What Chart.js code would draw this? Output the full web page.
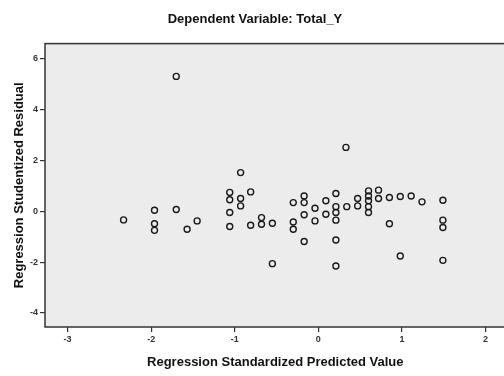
<!DOCTYPE html>
<html>
<head>
<meta charset="utf-8">
<script src="https://cdn.jsdelivr.net/npm/chart.js@4"></script>
<style>
  html, body { margin: 0; padding: 0; background: #ffffff; overflow: hidden; }
  #wrap { width: 510px; height: 376px; }
</style>
</head>
<body>
<div id="wrap"><canvas id="scatter"></canvas></div>
<script>
// residual scatterplot – studentized residual vs standardized predicted value

const chartTitle = "Dependent Variable: Total_Y";
const xTitle = "Regression Standardized Predicted Value";
const yTitle = "Regression Studentized Residual";

const xTicks = [-3, -2, -1, 0, 1, 2];
const yTicks = [-4, -2, 0, 2, 4, 6];

// predicted values (x) and residuals (y)
const predicted = [
  -2.33, -1.96, -1.96, -1.96, -1.70, -1.70, -1.57, -1.45,
  -1.06, -1.06, -1.06, -1.06, -0.93, -0.93, -0.93, -0.81, -0.81,
  -0.68, -0.68, -0.55, -0.55, -0.30, -0.30, -0.30,
  -0.17, -0.17, -0.17, -0.17, -0.04, -0.04, 0.09, 0.09,
  0.21, 0.21, 0.21, 0.21, 0.21, 0.21, 0.33, 0.34, 0.47, 0.47,
  0.60, 0.60, 0.60, 0.60, 0.60, 0.72, 0.72, 0.85, 0.85,
  0.98, 0.98, 1.11, 1.24, 1.49, 1.49, 1.49, 1.49
];
const residual = [
  -0.34, 0.04, -0.49, -0.75, 0.07, 5.30, -0.71, -0.38,
  0.74, 0.45, -0.05, -0.60, 1.52, 0.50, 0.21, 0.76, -0.55,
  -0.25, -0.51, -0.47, -2.06, 0.34, -0.42, -0.71,
  0.60, 0.34, -0.14, -1.19, 0.12, -0.38, 0.41, -0.12,
  0.70, 0.18, -0.05, -0.35, -1.13, -2.15, 2.51, 0.18, 0.50, 0.21,
  0.80, 0.60, 0.41, 0.18, -0.05, 0.83, 0.50, 0.54, -0.49,
  0.58, -1.76, 0.60, 0.37, 0.43, -0.35, -0.64, -1.93
];

const points = predicted.map((x, i) => ({ x: x, y: residual[i] }));

// серый фон области построения и рамка
const plotFrame = {
  id: "plotFrame",
  beforeDatasetsDraw(chart) {
    const { ctx, chartArea: a } = chart;
    ctx.save();
    ctx.fillStyle = "#ececec";
    ctx.fillRect(a.left, a.top, a.right - a.left, a.bottom - a.top);
    ctx.strokeStyle = "#333333";
    ctx.lineWidth = 1.5;
    ctx.strokeRect(a.left, a.top, a.right - a.left, a.bottom - a.top);
    ctx.restore();
  }
};

const tickFont = { family: "'Liberation Sans', Arial, sans-serif", size: 9, weight: "bold" };
const titleFont = { family: "'Liberation Sans', Arial, sans-serif", size: 13, weight: "bold" };

new Chart(document.getElementById("scatter"), {
  type: "scatter",
  data: {
    datasets: [{
      data: points,
      pointStyle: "circle",
      pointRadius: 3,
      pointHoverRadius: 3,
      pointBorderWidth: 1.4,
      pointBorderColor: "#1a1a1a",
      pointBackgroundColor: "rgba(0,0,0,0)"
    }]
  },
  options: {
    responsive: true,
    maintainAspectRatio: false,
    animation: false,
    layout: { padding: { top: 2, right: 0, left: 0, bottom: 0 } },
    plugins: {
      legend: { display: false },
      tooltip: { enabled: false },
      title: {
        display: true,
        text: chartTitle,
        color: "#111111",
        font: titleFont,
        padding: { top: 10, bottom: 16 }
      }
    },
    scales: {
      x: {
        type: "linear",
        min: -3.27,
        max: 2.24,
        afterBuildTicks: (scale) => { scale.ticks = xTicks.map(v => ({ value: v })); },
        afterFit: (scale) => { scale.height = 49; },
        border: { display: false },
        grid: { drawOnChartArea: false, drawTicks: true, tickLength: 5, color: "#333333", lineWidth: 1.2 },
        ticks: { color: "#333333", font: tickFont, padding: 2, maxRotation: 0 },
        title: { display: true, text: xTitle, color: "#111111", font: titleFont, padding: { top: 4, bottom: 6 } }
      },
      y: {
        type: "linear",
        min: -4.55,
        max: 6.59,
        afterBuildTicks: (scale) => { scale.ticks = yTicks.map(v => ({ value: v })); },
        afterFit: (scale) => { scale.width = 45; },
        border: { display: false },
        grid: { drawOnChartArea: false, drawTicks: true, tickLength: 5, color: "#333333", lineWidth: 1.2 },
        ticks: { color: "#333333", font: tickFont, padding: 2 },
        title: { display: true, text: yTitle, color: "#111111", font: titleFont, padding: { top: 12, bottom: 4 } }
      }
    }
  },
  plugins: [plotFrame]
});
</script>
</body>
</html>
